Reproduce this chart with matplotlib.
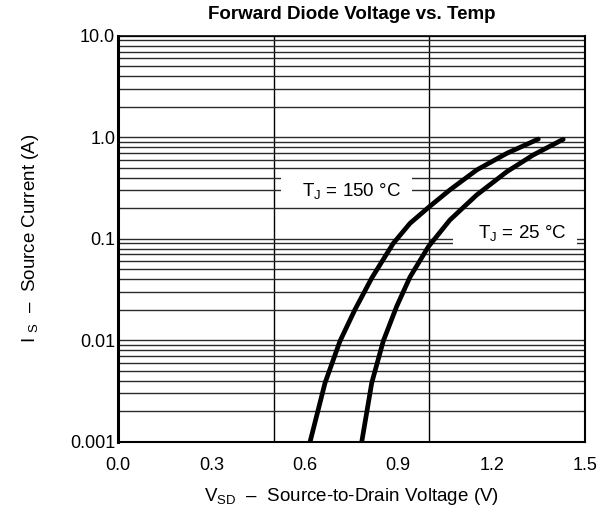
import matplotlib
matplotlib.use("Agg")
import matplotlib.pyplot as plt
from matplotlib.ticker import LogLocator, NullFormatter
from matplotlib.patches import Rectangle

plt.rcParams['font.family'] = ['Liberation Sans', 'DejaVu Sans']
plt.rcParams['mathtext.fontset'] = 'custom'
plt.rcParams['mathtext.rm'] = 'Liberation Sans'
plt.rcParams['mathtext.it'] = 'Liberation Sans:italic'
plt.rcParams['mathtext.bf'] = 'Liberation Sans:bold'

# ---- data ----
x_ticks = [0.0, 0.3, 0.6, 0.9, 1.2, 1.5]
x_ticklabels = ["0.0", "0.3", "0.6", "0.9", "1.2", "1.5"]
x_gridlines = [0.5, 1.0]
y_ticks = [0.001, 0.01, 0.1, 1.0, 10.0]
y_ticklabels = ["0.001", "0.01", "0.1", "1.0", "10.0"]

v_150 = [0.617, 0.665, 0.713, 0.761, 0.815, 0.884, 0.938, 1.000,
         1.066, 1.152, 1.249, 1.350]
i_150 = [0.001, 0.0038, 0.0098, 0.020, 0.041, 0.090, 0.142, 0.207,
         0.303, 0.476, 0.695, 0.96]

v_25 = [0.783, 0.815, 0.852, 0.895, 0.938, 0.997, 1.066, 1.152,
        1.249, 1.334, 1.430]
i_25 = [0.001, 0.0038, 0.0098, 0.0215, 0.042, 0.0836, 0.153, 0.270,
        0.458, 0.67, 0.955]

label_150 = r"$\mathregular{T_J}$ = 150 °C"
label_25 = r"$\mathregular{T_J}$ = 25 °C"

W, H = 599, 525
fig = plt.figure(figsize=(W / 100, H / 100), dpi=100)
ax = fig.add_axes([118 / W, 1 - 441.7 / H, (585 - 118) / W, (441.7 - 35.8) / H])

ax.set_yscale('log')
ax.set_xlim(0, 1.5)
ax.set_ylim(0.001, 10)

ax.set_xticks(x_ticks, x_ticklabels)
ax.set_xticks(x_gridlines, minor=True)
ax.set_yticks(y_ticks, y_ticklabels)
ax.yaxis.set_minor_locator(LogLocator(base=10, subs=range(2, 10)))
ax.yaxis.set_minor_formatter(NullFormatter())

ax.grid(which='both', axis='y', color='#2a2a2a', lw=1.0)
ax.grid(which='minor', axis='x', color='black', lw=1.0)
ax.grid(which='major', axis='x', visible=False)

ax.tick_params(which='both', length=0, labelsize=13)
ax.tick_params(axis='x', pad=11)
ax.tick_params(axis='y', pad=2)

ax.spines['left'].set_linewidth(2.2)
ax.spines['bottom'].set_linewidth(1.5)
ax.spines['right'].set_linewidth(1.5)
ax.spines['top'].set_linewidth(1.2)

ax.plot(v_150, i_150, color='black', lw=3.4, solid_capstyle='round',
        solid_joinstyle='round', zorder=5)
ax.plot(v_25, i_25, color='black', lw=3.4, solid_capstyle='round',
        solid_joinstyle='round', zorder=5)

# white label boxes that interrupt the grid
ax.add_patch(Rectangle((0.523, 0.245), 0.943 - 0.523, 0.45 - 0.245,
                       facecolor='white', edgecolor='none', zorder=3))
ax.add_patch(Rectangle((1.077, 0.083), 1.473 - 1.077, 0.17 - 0.083,
                       facecolor='white', edgecolor='none', zorder=3))
ax.text(0.751, 0.262, label_150, fontsize=13.5, ha='center', va='baseline', zorder=4)
ax.text(1.298, 0.102, label_25, fontsize=13.5, ha='center', va='baseline', zorder=4)

ax.set_title("Forward Diode Voltage vs. Temp", fontsize=13.5, fontweight='bold', pad=12)
ax.set_xlabel(r"$\mathregular{V_{SD}}$  –  Source-to-Drain Voltage (V)", fontsize=13.5, labelpad=9)
ax.set_ylabel(r"I $\mathregular{_S}$  –  Source Current (A)", fontsize=13.5, labelpad=21)

fig.savefig("out.png", dpi=100)
